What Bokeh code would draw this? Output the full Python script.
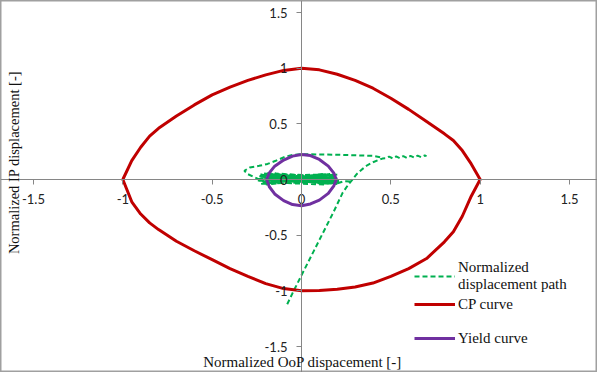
import numpy as np
from bokeh.plotting import figure
from bokeh.models import FixedTicker, CustomJSTickFormatter, Label, Legend, LegendItem
from bokeh.embed import file_html
from bokeh.resources import INLINE

# ---- tick values ----
x_ticks = [-1.5, -1, -0.5, 0, 0.5, 1, 1.5]
y_ticks = [-1.5, -1, -0.5, 0, 0.5, 1, 1.5]

# ---- CP curve (closed loop) ----
cp_x = [-1.0, -0.95, -0.9, -0.85, -0.8, -0.7, -0.6, -0.5, -0.4, -0.3, -0.2, -0.1, 0.0,
        0.1, 0.2, 0.3, 0.4, 0.5, 0.6, 0.7, 0.8, 0.85, 0.9, 0.95, 1.0,
        0.95, 0.9, 0.85, 0.8, 0.7, 0.6, 0.5, 0.4, 0.3, 0.2, 0.1, 0.0,
        -0.1, -0.2, -0.3, -0.4, -0.5, -0.6, -0.7, -0.8, -0.85, -0.9, -0.95, -1.0]
cp_y = [0.0, 0.17, 0.29, 0.39, 0.46, 0.57, 0.67, 0.76, 0.83, 0.89, 0.94, 0.98, 1.0,
        0.985, 0.945, 0.89, 0.82, 0.73, 0.63, 0.52, 0.41, 0.35, 0.26, 0.14, 0.0,
        -0.15, -0.33, -0.47, -0.56, -0.71, -0.80, -0.87, -0.93, -0.965, -0.985, -0.997, -1.0,
        -0.98, -0.935, -0.87, -0.80, -0.72, -0.64, -0.555, -0.45, -0.39, -0.31, -0.20, 0.0]

# ---- Yield curve (closed loop) ----
yield_x = [-0.195, -0.18, -0.15, -0.1, -0.05, 0.0, 0.05, 0.1, 0.15, 0.18, 0.195,
           0.18, 0.15, 0.1, 0.05, 0.0, -0.05, -0.1, -0.15, -0.18, -0.195]
yield_y = [0.0, 0.06, 0.12, 0.175, 0.21, 0.225, 0.215, 0.18, 0.12, 0.06, 0.0,
           -0.06, -0.125, -0.185, -0.22, -0.235, -0.225, -0.19, -0.13, -0.065, 0.0]

# ---- Normalized displacement path, read in three pieces ----
# diagonal branch and wiggly plateau
diag_x = [-0.08, -0.05, 0.0, 0.06, 0.12, 0.18, 0.23, 0.26, 0.285, 0.31, 0.34, 0.37, 0.40, 0.43, 0.453,
          0.47, 0.49, 0.51, 0.53, 0.55, 0.57, 0.59, 0.61, 0.63, 0.65, 0.67, 0.69, 0.70]
diag_y = [-1.12, -1.02, -0.86, -0.67, -0.48, -0.29, -0.12, -0.05, 0.0, 0.05, 0.093, 0.13, 0.155, 0.175, 0.188,
          0.19, 0.205, 0.19, 0.207, 0.192, 0.21, 0.194, 0.212, 0.197, 0.214, 0.20, 0.216, 0.21]
# upper branch and left loop
loop_x = [0.44, 0.40, 0.30, 0.20, 0.10, 0.0, -0.05, -0.088, -0.144, -0.19, -0.237, -0.29, -0.32,
          -0.30, -0.24, -0.21]
loop_y = [0.20, 0.212, 0.218, 0.222, 0.225, 0.228, 0.22, 0.207, 0.168, 0.14, 0.123, 0.108, 0.078,
          0.048, 0.003, -0.02]
# dense oscillation around the origin
blob_x = [0.20, -0.22, 0.19, -0.25, 0.21, -0.20, 0.18, -0.23, 0.20, -0.18,
          0.21, -0.24, 0.17, -0.21, 0.19, -0.20, 0.16, -0.24, 0.20, -0.16,
          0.18, -0.22, 0.15, -0.19, 0.20, -0.23, 0.17, -0.20, 0.12, -0.17,
          0.14, -0.21, 0.10, -0.15, 0.13, -0.20, 0.21, -0.18, 0.16, -0.22,
          0.19, -0.14, 0.11, -0.19, 0.17, -0.23, 0.20, 0.24, 0.285]
blob_y = [-0.005, 0.02, 0.03, -0.01, -0.02, 0.05, 0.01, -0.04, 0.045, 0.0,
          -0.035, 0.03, -0.015, 0.055, 0.02, -0.045, 0.05, 0.005, -0.04, 0.035,
          0.0, -0.025, 0.04, 0.015, 0.01, 0.045, -0.03, -0.01, 0.05, -0.035,
          -0.02, 0.01, 0.03, 0.055, -0.045, -0.025, -0.01, 0.025, -0.04, 0.04,
          0.0, -0.03, 0.045, 0.03, -0.02, 0.015, -0.035, -0.015, -0.02]

path_x = diag_x + [np.nan] + loop_x + blob_x
path_y = diag_y + [np.nan] + loop_y + blob_y

legend_labels = ["Normalized\ndisplacement path", "CP curve", "Yield curve"]

p = figure(width=597, height=372,
           x_range=(-1.6847, 1.6567), y_range=(-1.7335, 1.6078),
           output_backend="svg", toolbar_location=None, min_border=0)

p.grid.visible = False
p.outline_line_color = "#A0A0A0"
p.outline_line_width = 2
p.background_fill_color = "white"
p.border_fill_color = "white"

for ax, ticks in ((p.xaxis, x_ticks), (p.yaxis, y_ticks)):
    ax.fixed_location = 0
    ax.ticker = FixedTicker(ticks=ticks)
    ax.formatter = CustomJSTickFormatter(code="return tick.toString()")
    ax.axis_line_color = "#868686"
    ax.major_tick_line_color = "#868686"
    ax.major_tick_out = 5
    ax.major_tick_in = 0
    ax.minor_tick_line_color = None
    ax.major_label_text_font = "Lato"
    ax.major_label_text_font_size = "13px"
    ax.major_label_text_color = "#222222"
    ax.major_label_standoff = 9

r_path = p.line(path_x, path_y, line_color="#00B050", line_width=2, line_dash="5 3")
r_cp = p.line(cp_x, cp_y, line_color="#C00000", line_width=3, line_join="round")
r_yield = p.line(yield_x, yield_y, line_color="#7030A0", line_width=3, line_join="round")

# axis titles
p.add_layout(Label(x=302, y=11, x_units="screen", y_units="screen",
                   text="Normalized OoP dispacement [-]", text_font="Liberation Serif",
                   text_font_size="15px", text_align="center", text_baseline="alphabetic",
                   text_color="#111111"))
p.add_layout(Label(x=13, y=210, x_units="screen", y_units="screen", angle=np.pi / 2,
                   text="Normalized IP displacement [-]", text_font="Liberation Serif",
                   text_font_size="14.5px", text_align="center", text_baseline="middle",
                   text_color="#111111"))

# legends
for rend, lab, ypos in ((r_path, legend_labels[0], 79), (r_cp, legend_labels[1], 58),
                        (r_yield, legend_labels[2], 24)):
    lg = Legend(items=[LegendItem(label=lab, renderers=[rend])], location=(414, ypos))
    lg.border_line_color = None
    lg.background_fill_alpha = 0
    lg.padding = 0
    lg.margin = 0
    lg.glyph_width = 41
    lg.glyph_height = 20
    lg.label_height = 20
    lg.label_standoff = 3
    lg.label_text_font = "Liberation Serif"
    lg.label_text_font_size = "15px"
    lg.label_text_line_height = 1.3
    lg.label_text_color = "#111111"
    p.add_layout(lg)

open("out.html", "w").write(file_html(p, INLINE))
